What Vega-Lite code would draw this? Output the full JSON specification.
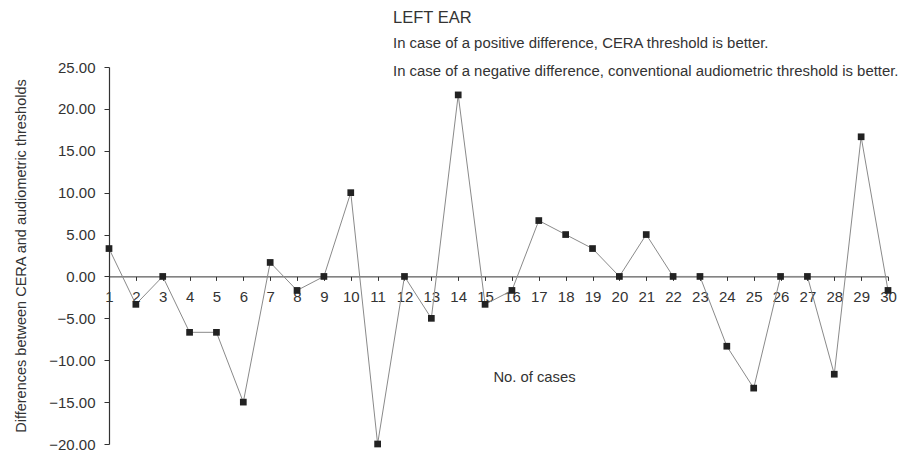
{
  "$schema": "https://vega.github.io/schema/vega-lite/v6.json",
  "width": 779,
  "height": 377,
  "autosize": "none",
  "padding": {"left": 109, "top": 67, "right": 12, "bottom": 9},
  "background": "white",
  "config": {
    "font": "Liberation Sans",
    "view": {"stroke": null},
    "axis": {"labelColor": "#333", "titleColor": "#333", "domainColor": "#333", "tickColor": "#333", "grid": false, "labelFontWeight": "normal", "titleFontWeight": "normal"}
  },
  "title": {
    "text": "LEFT EAR",
    "subtitle": ["In case of a positive difference, CERA threshold is better.", "In case of a negative difference, conventional audiometric threshold is better."],
    "anchor": "start",
    "frame": "group",
    "dx": 284,
    "fontSize": 16.5,
    "fontWeight": "normal",
    "color": "#333",
    "subtitleFontSize": 14.9,
    "subtitleColor": "#333",
    "subtitlePadding": 10,
    "subtitleLineHeight": 28,
    "offset": -19
  },
  "data": {
    "values": [
      {"case": 1, "diff": 3.33}, {"case": 2, "diff": -3.33}, {"case": 3, "diff": 0},
      {"case": 4, "diff": -6.67}, {"case": 5, "diff": -6.67}, {"case": 6, "diff": -15},
      {"case": 7, "diff": 1.67}, {"case": 8, "diff": -1.67}, {"case": 9, "diff": 0},
      {"case": 10, "diff": 10}, {"case": 11, "diff": -20}, {"case": 12, "diff": 0},
      {"case": 13, "diff": -5}, {"case": 14, "diff": 21.67}, {"case": 15, "diff": -3.33},
      {"case": 16, "diff": -1.67}, {"case": 17, "diff": 6.67}, {"case": 18, "diff": 5},
      {"case": 19, "diff": 3.33}, {"case": 20, "diff": 0}, {"case": 21, "diff": 5},
      {"case": 22, "diff": 0}, {"case": 23, "diff": 0}, {"case": 24, "diff": -8.33},
      {"case": 25, "diff": -13.33}, {"case": 26, "diff": 0}, {"case": 27, "diff": 0},
      {"case": 28, "diff": -11.67}, {"case": 29, "diff": 16.67}, {"case": 30, "diff": -1.67}
    ]
  },
  "encoding": {
    "x": {
      "field": "case", "type": "quantitative",
      "scale": {"domain": [1, 30], "nice": false, "zero": false},
      "axis": {
        "title": "No. of cases",
        "titleFontSize": 14.8,
        "titleX": 425,
        "titleY": 93,
        "titleAnchor": "middle",
        "values": [1,2,3,4,5,6,7,8,9,10,11,12,13,14,15,16,17,18,19,20,21,22,23,24,25,26,27,28,29,30],
        "format": "d",
        "labelFontSize": 15,
        "labelPadding": 9,
        "labelOverlap": false,
        "labelFlush": false,
        "tickSize": 4,
        "offset": -167.6,
        "domainWidth": 1
      }
    },
    "y": {
      "field": "diff", "type": "quantitative",
      "scale": {"domain": [-20, 25], "nice": false, "zero": false},
      "axis": {
        "title": "Differences between CERA and audiometric thresholds",
        "titleFontSize": 14.5,
        "titlePadding": 20,
        "values": [-20, -15, -10, -5, 0, 5, 10, 15, 20, 25],
        "format": ".2f",
        "labelFontSize": 15,
        "labelPadding": 9,
        "tickSize": 5,
        "domainWidth": 1.2
      }
    }
  },
  "layer": [
    {"mark": {"type": "line", "color": "#8a8a8a", "strokeWidth": 1}},
    {"mark": {"type": "point", "shape": "square", "filled": true, "color": "#222", "size": 45, "opacity": 1}}
  ]
}
